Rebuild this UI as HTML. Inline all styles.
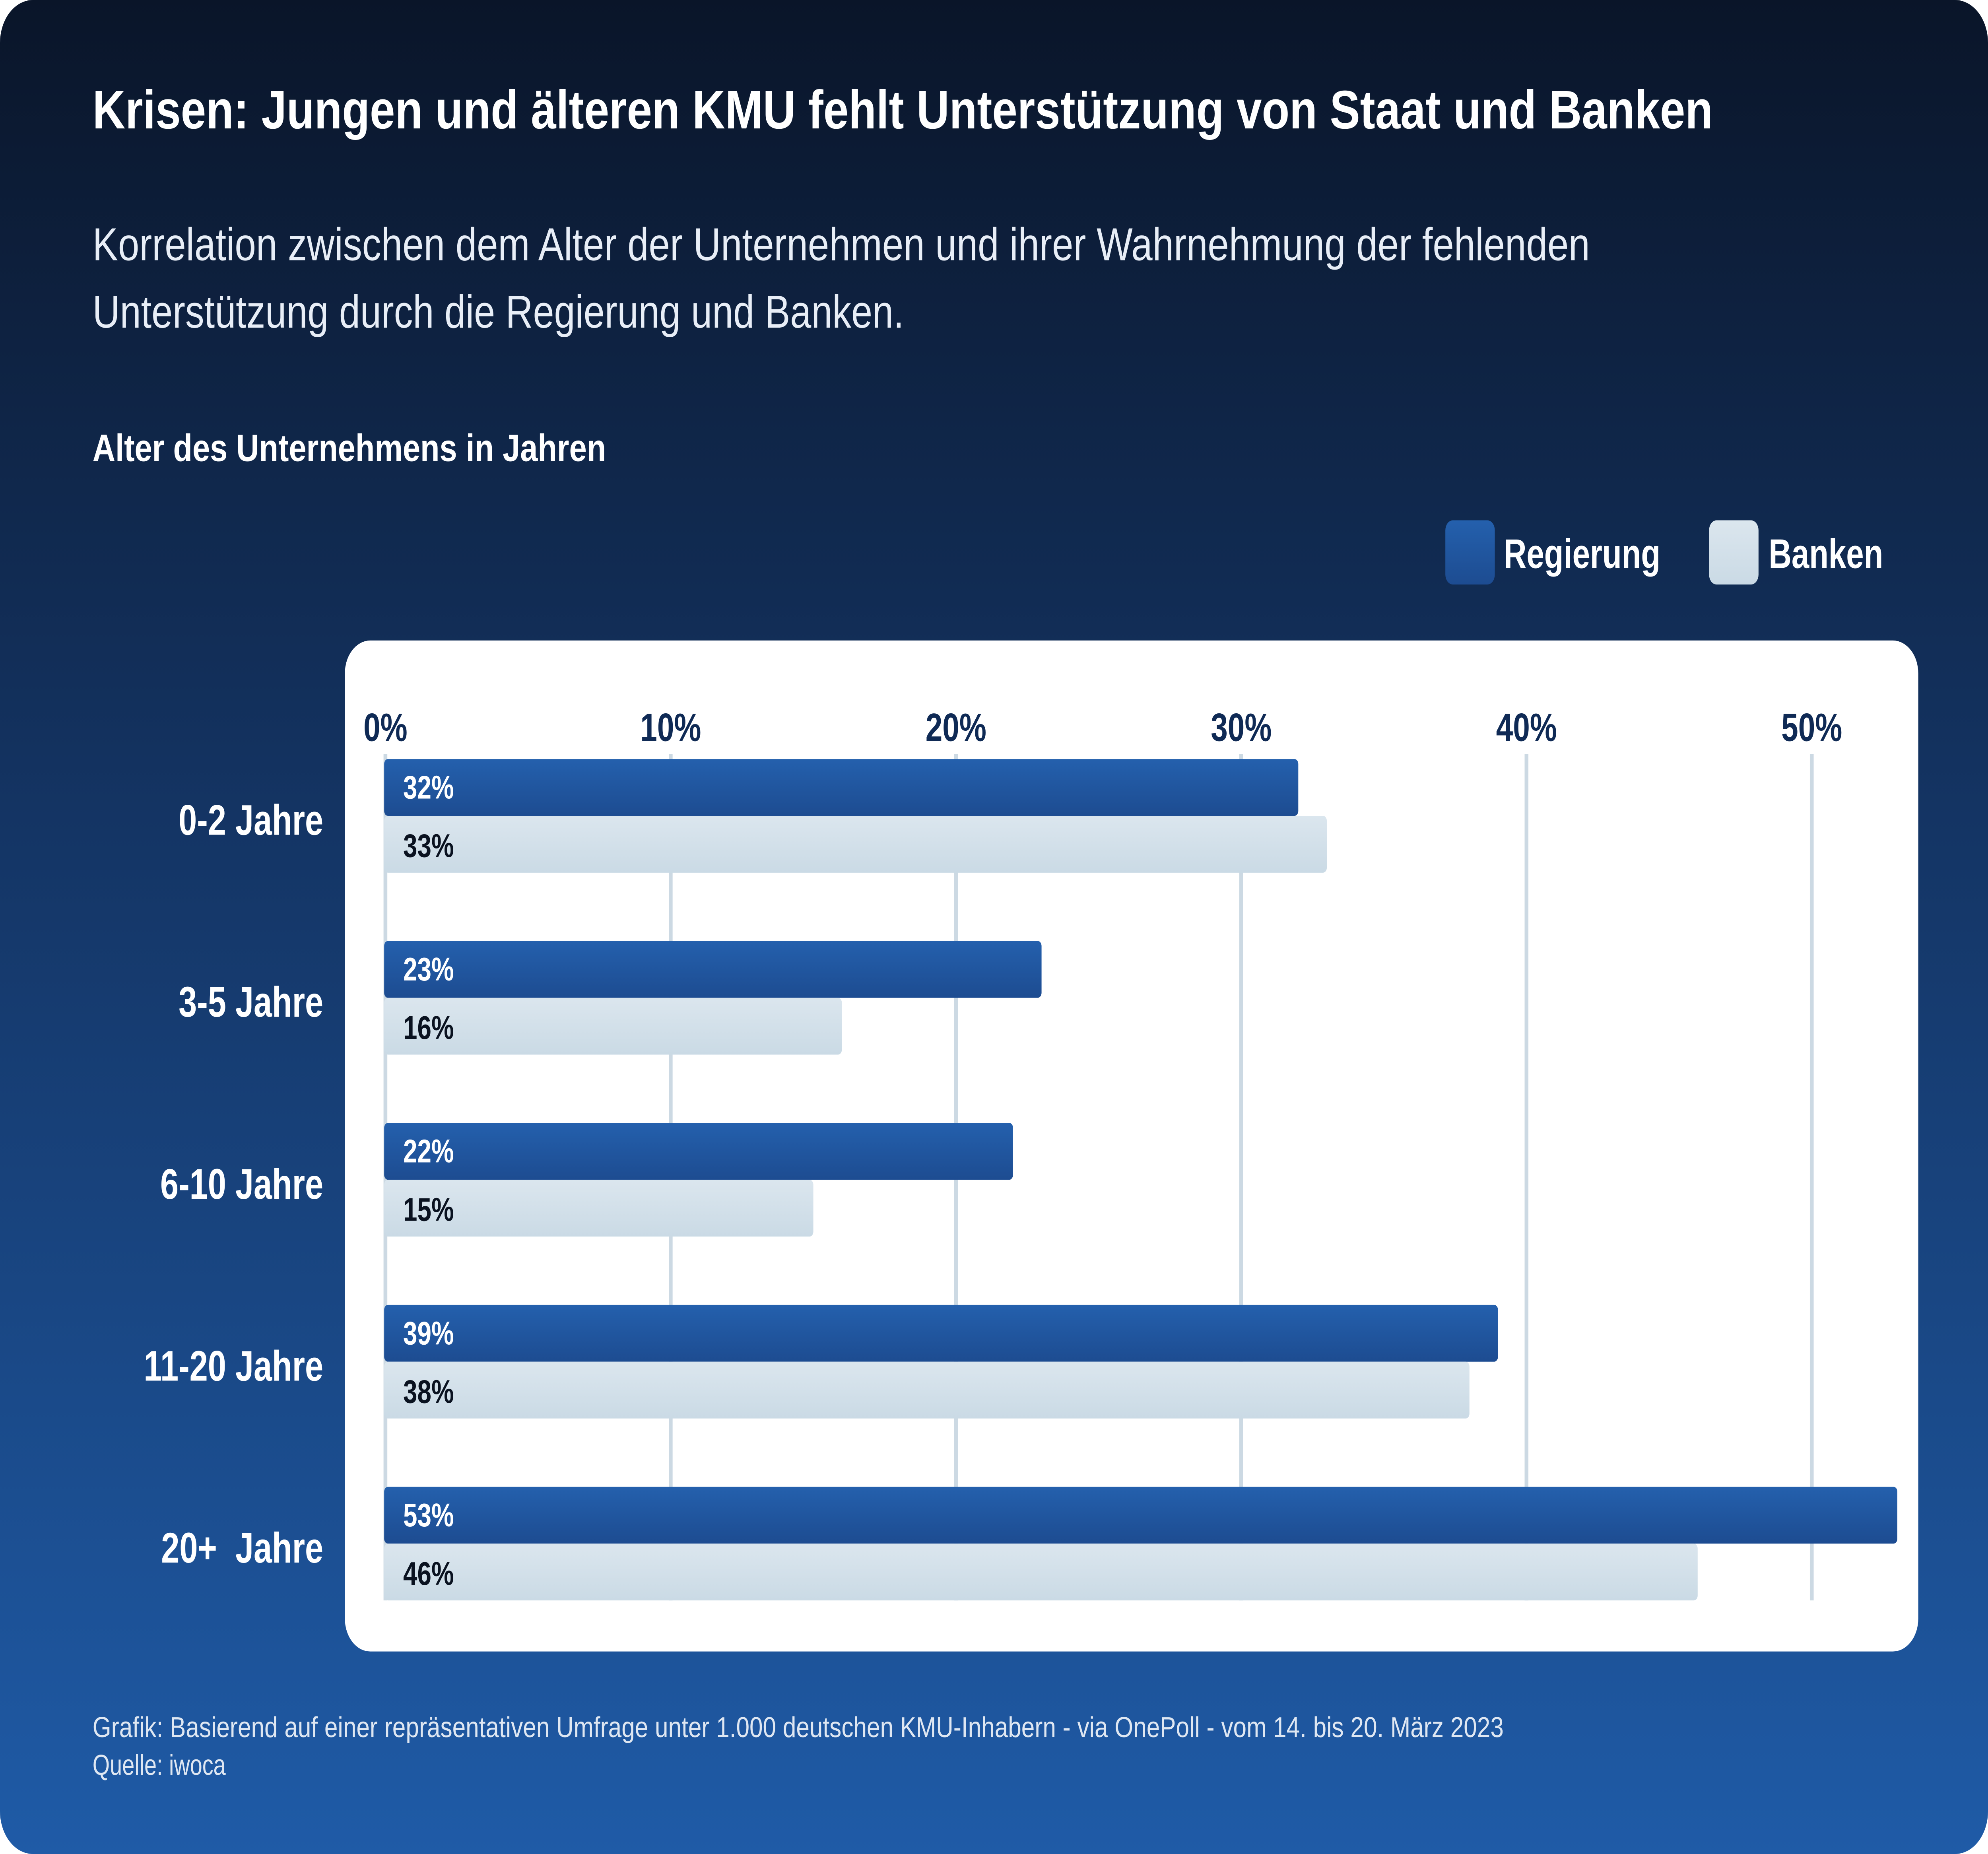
<!DOCTYPE html>
<html><head><meta charset="utf-8">
<style>
html,body{margin:0;padding:0;background:#fff;width:100%;height:100%;overflow:hidden;}
svg{display:block;position:fixed;left:0;top:0;width:100vw;height:100vh;font-family:"Liberation Sans",sans-serif;}
</style></head>
<body>
<svg id="chart" viewBox="0 0 1568 1126" preserveAspectRatio="none" xmlns="http://www.w3.org/2000/svg">
<defs>
<linearGradient id="bg" x1="0" y1="0" x2="0" y2="1">
<stop offset="0" stop-color="#0a1529"/><stop offset="0.45" stop-color="#143565"/><stop offset="1" stop-color="#1f5ba7"/>
</linearGradient>
<linearGradient id="gb" x1="0" y1="0" x2="0" y2="1">
<stop offset="0" stop-color="#2460ad"/><stop offset="1" stop-color="#1d4c91"/>
</linearGradient>
<linearGradient id="gl" x1="0" y1="0" x2="0" y2="1">
<stop offset="0" stop-color="#dbe6ee"/><stop offset="1" stop-color="#cadae5"/>
</linearGradient>
</defs>
<rect x="0" y="0" width="1568" height="1126" rx="26" fill="url(#bg)"/>
<text x="73" y="78" fill="#fff" font-size="33" font-weight="bold" textLength="1278" lengthAdjust="spacingAndGlyphs">Krisen: Jungen und älteren KMU fehlt Unterstützung von Staat und Banken</text>
<text fill="#e8eef7" font-size="28">
<tspan x="73" y="158" textLength="1181" lengthAdjust="spacingAndGlyphs">Korrelation zwischen dem Alter der Unternehmen und ihrer Wahrnehmung der fehlenden</tspan>
<tspan x="73" y="199" textLength="640" lengthAdjust="spacingAndGlyphs">Unterstützung durch die Regierung und Banken.</tspan></text>
<text x="73" y="280" fill="#fff" font-size="23" font-weight="bold" textLength="405" lengthAdjust="spacingAndGlyphs">Alter des Unternehmens in Jahren</text>
<g>
<rect x="1140" y="316" width="39" height="39" rx="6" fill="url(#gb)"/>
<text x="1186" y="345" fill="#fff" font-size="25" font-weight="bold">Regierung</text>
<rect x="1348" y="316" width="39" height="39" rx="6" fill="url(#gl)"/>
<text x="1395" y="345" fill="#fff" font-size="25" font-weight="bold">Banken</text>
</g>
<rect x="272" y="389" width="1241" height="614" rx="20" fill="#fff"/>
<g id="plot"></g>
<text x="73" y="1055" fill="#dfe7f2" font-size="17.5" textLength="1113" lengthAdjust="spacingAndGlyphs">Grafik: Basierend auf einer repräsentativen Umfrage unter 1.000 deutschen KMU-Inhabern - via OnePoll - vom 14. bis 20. März 2023</text>
<text x="73" y="1078" fill="#dfe7f2" font-size="17.5">Quelle: iwoca</text>
</svg>
<script>
const categories = ["0-2 Jahre","3-5 Jahre","6-10 Jahre","11-20 Jahre","20+\u00a0 Jahre"];
const regierung = [32, 23, 22, 39, 53];
const banken = [33, 16, 15, 38, 46];
const ticks = [0, 10, 20, 30, 40, 50];

const NS = "http://www.w3.org/2000/svg";
const g = document.getElementById("plot");
const x0 = 304, pxPer = 22.5;
const xs = v => x0 + v * pxPer;
const groupTop = i => 461 + i * 110.5;
const barH = 34.5;
function mk(tag, attrs, parent){const e=document.createElementNS(NS,tag);for(const k in attrs)e.setAttribute(k,attrs[k]);(parent||g).appendChild(e);return e;}

ticks.forEach(t=>{
  const line = mk("line",{x1:xs(t),x2:xs(t),y1:458,y2:972,stroke:"#ccd9e3","stroke-width":3});
  
  
  const lab = mk("text",{x:xs(t),y:450,"text-anchor":"middle",fill:"#0f2a55","font-size":24,"font-weight":"bold"});
  lab.textContent = t + "%";
  
  
});

categories.forEach((c,i)=>{
  const top = groupTop(i);
  const cl = mk("text",{x:255,y:top+46,"text-anchor":"end",fill:"#fff","font-size":26,"font-weight":"bold"});
  cl.textContent = c;
  
  

  const b1 = mk("rect",{x:x0-1,y:top,width:xs(regierung[i])-x0+1,height:barH,rx:3,fill:"url(#gb)"});
  
  
  const b2 = mk("rect",{x:x0-1,y:top+barH,width:xs(banken[i])-x0+1,height:barH,rx:3,fill:"url(#gl)"});
  
  

  const v1 = mk("text",{x:318,y:top+24,fill:"#fff","font-size":20,"font-weight":"bold"});
  v1.textContent = regierung[i] + "%";
  
  
  const v2 = mk("text",{x:318,y:top+barH+25,fill:"#0a1220","font-size":20,"font-weight":"bold"});
  v2.textContent = banken[i] + "%";
  
  
});
</script>
</body></html>
